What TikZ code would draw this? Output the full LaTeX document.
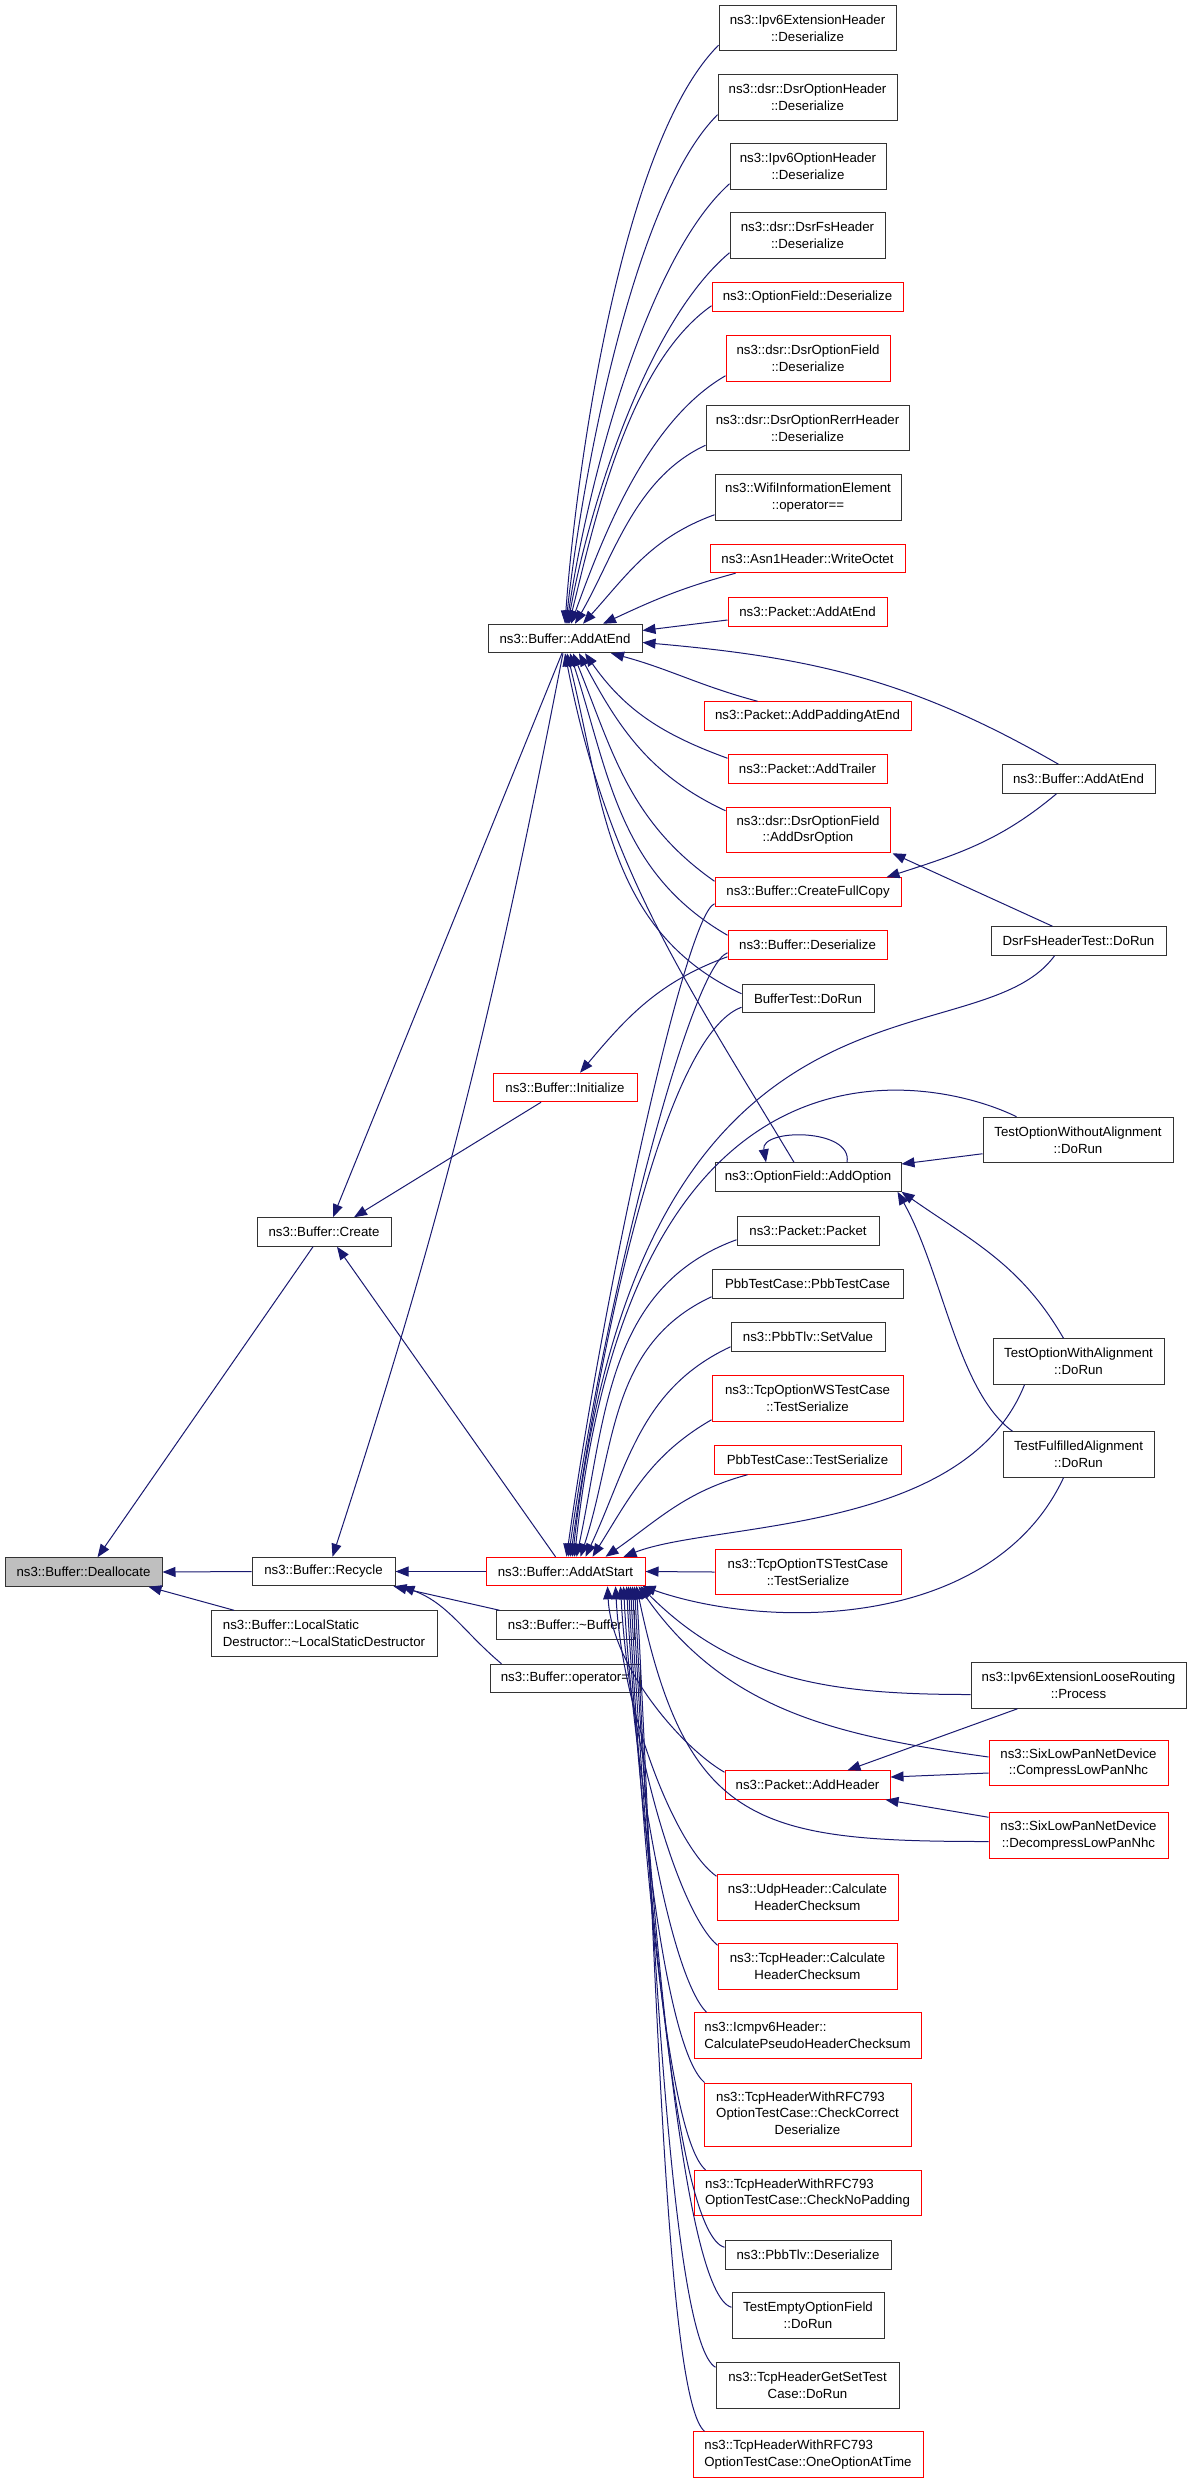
\documentclass[tikz,border=0pt]{standalone}
\usepackage{fontspec}
\setmainfont{Liberation Sans}
\usetikzlibrary{arrows.meta}

\definecolor{azulflecha}{HTML}{191970}
\definecolor{rojo}{HTML}{FF0000}
\definecolor{gris}{HTML}{BFBFBF}

\tikzset{
  func/.style={draw=black!80, line width=1pt, inner sep=2pt, align=center,
    font=\fontsize{13.25}{16.7}\selectfont, minimum height=28.5pt},
  funcred/.style={func, draw=rojo},
  dos/.style={minimum height=45.5pt},
  tres/.style={minimum height=63pt},
  call/.style={draw=azulflecha, line width=1pt, -{Triangle[length=13pt,width=10pt]}},
}

\begin{document}
\begin{tikzpicture}[x=1pt,y=-1pt]
      \useasboundingbox (0,0) rectangle (1192,2483);

      % Funcion y llamadores directos
      \node[func, fill=gris, minimum width=157pt] (dealloc) at (83.5,1572) {ns3::Buffer::Deallocate};
      \node[func, minimum width=134pt] (create) at (324,1232) {ns3::Buffer::Create};
      \node[func, minimum width=143pt] (recycle) at (323.5,1571.5) {ns3::Buffer::Recycle};
      \node[func, minimum width=226pt, dos, align=left] (lsd) at (324,1633.5) {ns3::Buffer::LocalStatic\\Destructor::\textasciitilde LocalStaticDestructor};

      % Tercera columna
      \node[func, minimum width=154pt] (addend) at (565,638.5) {ns3::Buffer::AddAtEnd};
      \node[funcred, minimum width=144pt] (init) at (565,1087.5) {ns3::Buffer::Initialize};
      \node[funcred, minimum width=159pt] (addstart) at (565.5,1571.5) {ns3::Buffer::AddAtStart};
      \node[func, minimum width=138pt] (dtor) at (565,1625) {ns3::Buffer::\textasciitilde Buffer};
      \node[func, minimum width=150pt] (opassign) at (565,1678.5) {ns3::Buffer::operator=};

      % Cuarta columna
      \node[func, minimum width=177pt, dos] (ipv6ext) at (807.5,28) {ns3::Ipv6ExtensionHeader\\::Deserialize};
      \node[func, minimum width=179pt, dos] (dsrhdr) at (807.5,97.5) {ns3::dsr::DsrOptionHeader\\::Deserialize};
      \node[func, minimum width=156pt, dos] (ipv6opt) at (808,166.5) {ns3::Ipv6OptionHeader\\::Deserialize};
      \node[func, minimum width=155pt, dos] (dsrfs) at (807.5,235.5) {ns3::dsr::DsrFsHeader\\::Deserialize};
      \node[funcred, minimum width=191pt] (ofdeser) at (807.5,297) {ns3::OptionField::Deserialize};
      \node[funcred, minimum width=164pt, dos] (dsrofdeser) at (808,358.5) {ns3::dsr::DsrOptionField\\::Deserialize};
      \node[func, minimum width=203pt, dos] (rerr) at (807.5,428) {ns3::dsr::DsrOptionRerrHeader\\::Deserialize};
      \node[func, minimum width=186pt, dos] (wifi) at (808,497.5) {ns3::WifiInformationElement\\::operator==};
      \node[funcred, minimum width=195pt] (asn1) at (807.5,558.5) {ns3::Asn1Header::WriteOctet};
      \node[funcred, minimum width=159pt] (pktend) at (807.5,612) {ns3::Packet::AddAtEnd};
      \node[funcred, minimum width=207pt] (padend) at (807.5,716) {ns3::Packet::AddPaddingAtEnd};
      \node[funcred, minimum width=159pt] (trailer) at (807.5,769) {ns3::Packet::AddTrailer};
      \node[funcred, minimum width=164pt, dos] (adddsr) at (808,830) {ns3::dsr::DsrOptionField\\::AddDsrOption};
      \node[funcred, minimum width=186pt] (fullcopy) at (808,892) {ns3::Buffer::CreateFullCopy};
      \node[funcred, minimum width=159pt] (bufdeser) at (807.5,945) {ns3::Buffer::Deserialize};
      \node[func, minimum width=132pt] (buftest) at (808,998.5) {BufferTest::DoRun};
      \node[func, minimum width=186pt] (addopt) at (808,1177) {ns3::OptionField::AddOption};
      \node[func, minimum width=142pt] (packet) at (808,1231) {ns3::Packet::Packet};
      \node[func, minimum width=191pt] (pbbtc) at (807.5,1284) {PbbTestCase::PbbTestCase};
      \node[func, minimum width=154pt] (setvalue) at (808,1337) {ns3::PbbTlv::SetValue};
      \node[funcred, minimum width=191pt, dos] (wsser) at (807.5,1398.5) {ns3::TcpOptionWSTestCase\\::TestSerialize};
      \node[funcred, minimum width=187pt] (pbbser) at (807.5,1460) {PbbTestCase::TestSerialize};
      \node[funcred, minimum width=186pt, dos] (tsser) at (808,1572) {ns3::TcpOptionTSTestCase\\::TestSerialize};
      \node[funcred, minimum width=165pt] (addhdr) at (807.5,1785) {ns3::Packet::AddHeader};
      \node[funcred, minimum width=181pt, dos] (udp) at (807.5,1897.5) {ns3::UdpHeader::Calculate\\HeaderChecksum};
      \node[funcred, minimum width=179pt, dos] (tcp) at (807.5,1966.5) {ns3::TcpHeader::Calculate\\HeaderChecksum};
      \node[funcred, minimum width=227pt, dos, align=left] (icmp) at (807.5,2035.5) {ns3::Icmpv6Header::\\CalculatePseudoHeaderChecksum};
      \node[funcred, minimum width=207pt, tres] (correct) at (807.5,2114.5) {\begin{tabular}{@{}l@{}}ns3::TcpHeaderWithRFC793\\OptionTestCase::CheckCorrect\\\multicolumn{1}{@{}c@{}}{Deserialize}\end{tabular}};
      \node[funcred, minimum width=227pt, dos, align=left] (nopad) at (807.5,2193) {ns3::TcpHeaderWithRFC793\\OptionTestCase::CheckNoPadding};
      \node[func, minimum width=166pt] (pbbdeser) at (808,2255) {ns3::PbbTlv::Deserialize};
      \node[func, minimum width=152pt, dos] (emptyopt) at (808,2315.5) {TestEmptyOptionField\\::DoRun};
      \node[func, minimum width=183pt, dos] (getset) at (807.5,2385.5) {ns3::TcpHeaderGetSetTest\\Case::DoRun};
      \node[funcred, minimum width=230pt, dos, align=left] (oneopt) at (808,2454.5) {ns3::TcpHeaderWithRFC793\\OptionTestCase::OneOptionAtTime};

      % Quinta columna
      \node[func, minimum width=153pt] (bufend2) at (1078.5,779) {ns3::Buffer::AddAtEnd};
      \node[func, minimum width=175pt] (dsrtest) at (1078.5,941) {DsrFsHeaderTest::DoRun};
      \node[func, minimum width=190pt, dos] (withoutal) at (1078,1140) {TestOptionWithoutAlignment\\::DoRun};
      \node[func, minimum width=171pt, dos] (withal) at (1078.5,1361.5) {TestOptionWithAlignment\\::DoRun};
      \node[func, minimum width=151pt, dos] (fulfilled) at (1078.5,1454.5) {TestFulfilledAlignment\\::DoRun};
      \node[func, minimum width=215pt, dos] (loose) at (1078.5,1685.5) {ns3::Ipv6ExtensionLooseRouting\\::Process};
      \node[funcred, minimum width=179pt, dos] (compress) at (1078.5,1763) {ns3::SixLowPanNetDevice\\::CompressLowPanNhc};
      \node[funcred, minimum width=179pt, dos] (decompress) at (1078.5,1835.5) {ns3::SixLowPanNetDevice\\::DecompressLowPanNhc};

      % Llamadas a Deallocate
      \draw[call] ([xshift=-11pt]create.south) -- ([xshift=14pt]dealloc.north);
      \draw[call] (recycle.west) -- (dealloc.east);
      \draw[call] ([xshift=-90pt]lsd.north) -- ([xshift=65pt]dealloc.south);

      % Llamadas a Create y Recycle
      \draw[call] ([xshift=-3pt]addend.south) -- ([xshift=9pt]create.north);
      \draw[call] ([xshift=-24pt]init.south) -- ([xshift=30pt]create.north);
      \draw[call] ([xshift=-10pt]addstart.north) -- ([xshift=13pt]create.south);
      \draw[call] ([xshift=-2pt]addend.south) to[out=-101,in=72] ([xshift=9pt]recycle.north);
      \draw[call] (addstart.west) -- (recycle.east);
      \draw[call] ([xshift=4pt]dtor.north west) -- ([xshift=-2pt]recycle.south east);
      \draw[call] ([xshift=12pt]opassign.north west) to[out=140,in=-20] ([xshift=6pt]recycle.south east);

      % Llamadas a AddAtEnd desde arriba
      \foreach \n/\dx/\o/\i/\l in {ipv6ext/0/225/86/0.6, dsrhdr/1/225/84/0.6, ipv6opt/2/222/82/0.65,
          dsrfs/3/220/80/0.7, ofdeser/4/215/76/0.75, dsrofdeser/6/210/70/0.8, rerr/10/205/60/0.9, wifi/18/200/48/1} {
          \draw[call] ([yshift=6pt]\n.south west) to[out=\o,in=\i,looseness=\l] ([xshift=\dx pt]addend.north);
      }
      \draw[call] ([xshift=26pt]asn1.south west) to[out=195,in=25] ([xshift=38pt]addend.north);
      \draw[call] ([yshift=-8pt]pktend.west) -- ([yshift=8pt]addend.east);
      \draw[call] ([xshift=-20pt]bufend2.north) to[out=150,in=-5] ([yshift=-4pt]addend.east);

      % Llamadas a AddAtEnd desde abajo
      \draw[call] ([xshift=-50pt]padend.north) to[out=165,in=-15] ([xshift=46pt]addend.south);
      \draw[call] ([yshift=-4pt]trailer.north west) to[out=160,in=-55] ([xshift=20pt]addend.south);
      \draw[call] ([yshift=-4pt]adddsr.north west) to[out=155,in=-62] ([xshift=14pt]addend.south);
      \draw[call] ([yshift=-4pt]fullcopy.north west) to[out=145,in=-68] ([xshift=8pt]addend.south);
      \draw[call] ([yshift=-5pt]bufdeser.north west) to[out=150,in=-72] ([xshift=5pt]addend.south);
      \draw[call] ([yshift=-10pt]buftest.north west) to[out=155,in=-76] ([xshift=2pt]addend.south);
      \draw[call] ([xshift=-14pt]addopt.north) to[out=121,in=-79] (addend.south);

      % Otras llamadas
      \draw[call] ([yshift=3pt]bufdeser.south west) to[out=200,in=50] ([xshift=15pt]init.north);
      \draw[call] ([xshift=-22pt]bufend2.south) to[out=-140,in=18] ([xshift=-15pt]fullcopy.north east);
      \draw[call] ([xshift=-26pt]dsrtest.north) -- ([xshift=2pt]adddsr.south east);
      \draw[call] ([xshift=39pt]addopt.north) to[out=80,in=100,looseness=1.1] ([xshift=-42pt]addopt.north);
      \draw[call] ([yshift=9.5pt]withoutal.south west) -- ([yshift=13pt]addopt.east);
      \draw[call] ([xshift=-15pt]withal.north) to[out=120,in=-35] (addopt.south east);
      \draw[call] ([xshift=10pt]fulfilled.north west) .. controls +(-55,-40) and +(45,80) .. ([xshift=-4pt]addopt.south east);
      \draw[call] ([xshift=-61pt]loose.south) -- ([xshift=40pt]addhdr.north);
      \draw[call] ([yshift=-10pt]compress.west) -- ([yshift=8pt]addhdr.east);
      \draw[call] ([yshift=-5pt]decompress.north west) -- ([xshift=-5pt]addhdr.south east);

      % Llamadas a AddAtStart desde arriba
      \draw[call] ([yshift=3pt]fullcopy.south west) to[out=200,in=82,out distance=30pt,in distance=280pt] ([xshift=1pt]addstart.north);
      \draw[call] ([yshift=7pt]bufdeser.south west) to[out=200,in=82,out distance=40pt,in distance=260pt] ([xshift=3pt]addstart.north);
      \draw[call] ([yshift=6pt]buftest.south west) to[out=200,in=82,out distance=80pt,in distance=230pt] ([xshift=5pt]addstart.north);
      \draw[call] ([xshift=-24pt]dsrtest.south) .. controls +(-80,110) and +(70,-620) .. ([xshift=7pt]addstart.north);
      \draw[call] ([xshift=34pt]withoutal.north west) .. controls +(-70,-35) and +(60,-560) .. ([xshift=9pt]addstart.north);
      \foreach \n/\dy/\dx/\o/\i in {packet/6/11/200/78, pbbtc/2/15/205/72, setvalue/5/20/205/65, wsser/2/27/210/58} {
          \draw[call] ([yshift=\dy pt]\n.south west) to[out=\o,in=\i] ([xshift=\dx pt]addstart.north);
      }
      \draw[call] ([xshift=34pt]pbbser.south west) to[out=195,in=35] ([xshift=40pt]addstart.north);
      \draw[call] ([xshift=32pt]withal.south west) .. controls +(-60,150) and +(90,-35) .. ([xshift=58pt]addstart.north);
      \draw[call] (tsser.west) -- (addstart.east);

      % Llamadas a AddAtStart desde abajo
      \draw[call] ([xshift=-15pt]fulfilled.south) .. controls +(-70,150) and +(130,45) .. ([xshift=-3pt]addstart.south east);
      \draw[call] ([yshift=-9pt]loose.west) to[out=180,in=-45] ([xshift=75pt]addstart.south);
      \draw[call] ([yshift=6pt]compress.west) to[out=172,in=-55] ([xshift=73pt]addstart.south);
      \draw[call] ([yshift=-6pt]decompress.west) .. controls +(-230,0) and +(50,240) .. ([xshift=71pt]addstart.south);
      \foreach \n/\sx/\sy/\o/\d/\dx in {addhdr/0/-2/150/80/42, udp/0/-2/145/125/50, tcp/0/-2/140/160/55,
          icmp/13/0/135/190/58, correct/1/0/140/225/61, nopad/12/0/140/260/63, pbbdeser/0/-7/165/300/65,
          emptyopt/0/-15/165/325/67, getset/0/-5/150/350/69, oneopt/12/0/140/380/71} {
          \draw[call] ([xshift=\sx pt,yshift=\sy pt]\n.north west) to[out=\o,in=-87,out distance=50pt,in distance=\d pt] ([xshift=\dx pt]addstart.south);
      }
\end{tikzpicture}
\end{document}
